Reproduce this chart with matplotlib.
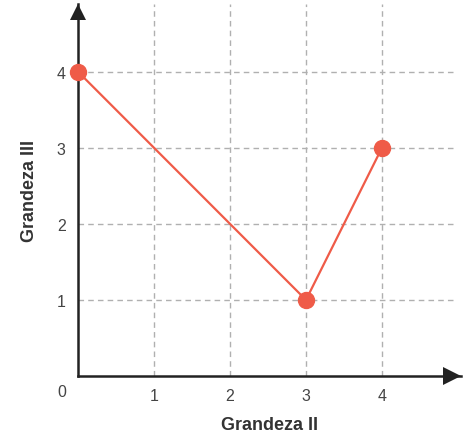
import matplotlib.pyplot as plt

plt.rcParams['font.family'] = ['Liberation Sans', 'DejaVu Sans']

grandeza_ii = [0, 3, 4]
grandeza_iii = [4, 1, 3]
x_ticks = [1, 2, 3, 4]
y_ticks = [1, 2, 3, 4]

red = '#ef5b48'
axis_col = '#222222'
text_col = '#444444'

fig = plt.figure(figsize=(4.74, 4.39), dpi=100)
ax = fig.add_axes([78/474, 62/439, (461-78)/474, (434-62)/439])
ax.set_xlim(0, 5.04)
ax.set_ylim(0, 4.89)

for s in ['top', 'right']:
    ax.spines[s].set_visible(False)
for s in ['left', 'bottom']:
    ax.spines[s].set_color(axis_col)
    ax.spines[s].set_linewidth(1.8)

# dashed grid
for xv in x_ticks:
    ax.plot([xv, xv], [0, 4.89], ls=(0, (4, 3)), color='#b0b0b0', lw=1, zorder=1)
for yv in y_ticks:
    ax.plot([0, 4.96], [yv, yv], ls=(0, (4, 3)), color='#b0b0b0', lw=1, zorder=1)

# arrow heads, tips on the axes edge
ax.plot(1 - 9/383, 0, marker='>', ms=13, color=axis_col, transform=ax.transAxes,
        clip_on=False, zorder=5, markeredgewidth=0)
ax.plot(0, 1 - 8/372, marker='^', ms=12, color=axis_col, transform=ax.transAxes,
        clip_on=False, zorder=5, markeredgewidth=0)

ax.plot(grandeza_ii, grandeza_iii, color=red, lw=1.6, marker='o', ms=11.5,
        clip_on=False, zorder=6)

ax.set_xticks(x_ticks)
ax.set_yticks(y_ticks)
ax.tick_params(length=0, labelsize=11.5, labelcolor=text_col, pad=9)
ax.text(-0.21, -0.21, '0', ha='center', va='center', fontsize=11.5, color=text_col)

ax.set_xlabel('Grandeza II', fontweight='bold', fontsize=13, color='#333333', labelpad=9)
ax.set_ylabel('Grandeza III', fontweight='bold', fontsize=13, color='#333333', labelpad=13)

fig.savefig('out.png', dpi=100)
